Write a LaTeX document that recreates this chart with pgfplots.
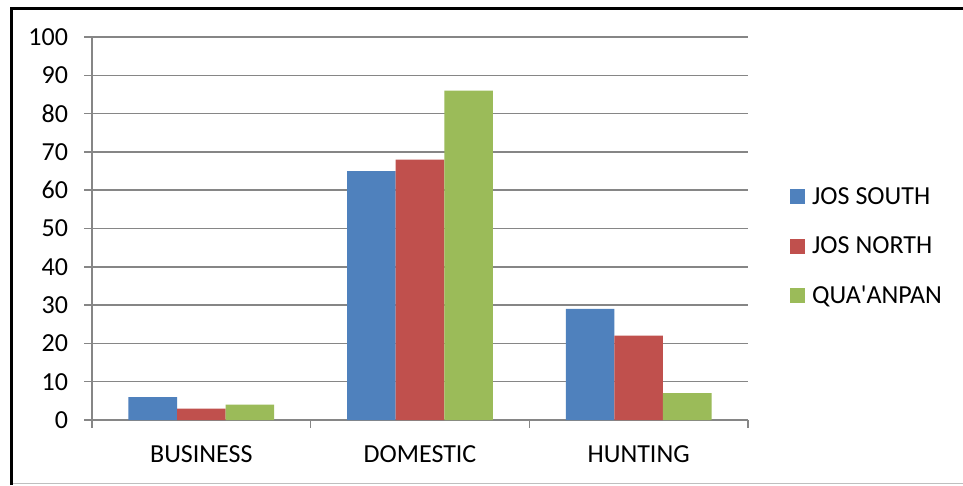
\documentclass[border=0pt]{standalone}
\usepackage{fontspec}
\setmainfont{Carlito}
\usepackage{pgfplots}
\pgfplotsset{compat=1.18}
\definecolor{cblue}{HTML}{4F81BD}
\definecolor{cred}{HTML}{C0504D}
\definecolor{cgreen}{HTML}{9BBB59}
\definecolor{gridc}{RGB}{134,134,134}
\begin{document}
\begin{tikzpicture}[x=1pt,y=1pt]
\useasboundingbox (0,0) rectangle (963,485);
\fill[white] (0,0) rectangle (963,485);
\draw[line width=3.5pt,black] (11.5,0) -- (11.5,476.5) -- (963,476.5);
\draw[line width=1.5pt,black!25] (13,1.5) -- (963,1.5);
\begin{axis}[
  at={(92pt,65pt)}, anchor=south west,
  scale only axis, width=656pt, height=383pt,
  ybar, bar width=0.2222,
  xmin=-0.5, xmax=2.5, ymin=0, ymax=100,
  ytick={0,10,...,100},
  xtick={-0.5,0.5,1.5,2.5},
  x tick label as interval,
  xticklabels={BUSINESS,DOMESTIC,HUNTING},
  axis x line=bottom, axis y line=left,
  axis line style={-, draw=gridc, line width=1.5pt},
  ymajorgrids, grid style={draw=gridc, line width=1.5pt},
  tick align=outside, major tick length=7.5pt,
  tick style={draw=gridc, line width=1.5pt},
  ticklabel style={font=\fontsize{26}{31}\selectfont, text=black},
  /pgf/number format/assume math mode=true,
  yticklabel style={xshift=-13pt},
  xticklabel style={yshift=-15pt},
  legend style={at={(1.064,0.453)}, anchor=west, draw=none, fill=none,
    font=\fontsize{26}{31}\selectfont, row sep=27pt, column sep=5pt, inner sep=0pt},
  legend cell align=left,
  legend image code/.code={\fill (0pt,-7.5pt) rectangle (15pt,7.5pt);},
]
\addplot[fill=cblue, draw=none, bar shift=-0.2222] coordinates {(0,6) (1,65) (2,29)};
\addplot[fill=cred, draw=none, bar shift=0] coordinates {(0,3) (1,68) (2,22)};
\addplot[fill=cgreen, draw=none, bar shift=0.2222] coordinates {(0,4) (1,86) (2,7)};
\legend{JOS SOUTH, JOS NORTH, QUA\textquotesingle ANPAN}
\end{axis}
\end{tikzpicture}
\end{document}
